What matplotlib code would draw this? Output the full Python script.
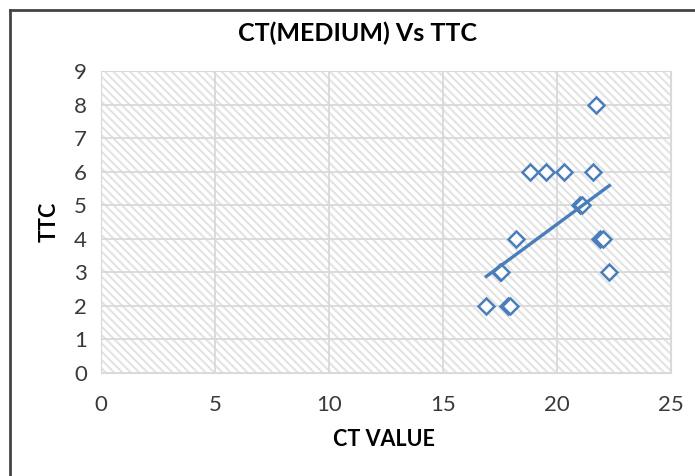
import numpy as np
import matplotlib.pyplot as plt
from matplotlib.patches import Rectangle
from matplotlib.lines import Line2D

# CT value vs TTC readings
ct_value = [16.9, 17.5, 17.55, 17.85, 17.95, 18.2, 18.8, 19.5, 20.3,
            21.0, 21.1, 21.6, 21.7, 21.9, 22.0, 22.3]
ttc = [2, 3, 3, 2, 2, 4, 6, 6, 6, 5, 5, 6, 8, 4, 4, 3]

x_ticks = [0, 5, 10, 15, 20, 25]
y_ticks = list(range(0, 10))

plt.rcParams['font.family'] = ['Lato', 'DejaVu Sans']
plt.rcParams['hatch.linewidth'] = 1.5

blue = '#4A7EBB'

fig = plt.figure(figsize=(6.95, 4.76), dpi=100)
ax = fig.add_axes([101 / 695, 1 - 373 / 476, 570 / 695, 302 / 476])

# hatched plot area
ax.add_patch(Rectangle((0, 0), 1, 1, transform=ax.transAxes, facecolor='white',
                       edgecolor='#e3e3e3', hatch='\\\\\\\\', lw=0, zorder=0))

ax.plot(ct_value, ttc, linestyle='none', marker='D', markersize=8,
        markerfacecolor='white', markeredgecolor=blue, markeredgewidth=1.8, zorder=3)

# linear trendline
slope, intercept = np.polyfit(ct_value, ttc, 1)
xs = np.array([min(ct_value), max(ct_value)])
ax.plot(xs, slope * xs + intercept, color=blue, lw=2.4, zorder=4)

ax.set_xlim(0, 25)
ax.set_ylim(0, 9)
ax.set_xticks(x_ticks)
ax.set_yticks(y_ticks)
ax.set_axisbelow(True)
ax.grid(True, color='#d9d9d9', lw=1.3)
for s in ax.spines.values():
    s.set_color('#d9d9d9')
ax.tick_params(length=0, labelsize=16, labelcolor='#3a3a3a')
ax.tick_params(axis='x', pad=16)
ax.tick_params(axis='y', pad=10)

fig.text(358 / 695, 1 - 33 / 476, 'CT(MEDIUM) Vs TTC', ha='center', va='center',
         fontsize=18, fontweight='bold')
fig.text(384 / 695, 1 - 440 / 476, 'CT VALUE', ha='center', va='center',
         fontsize=15.5, fontweight='bold')
fig.text(49 / 695, 1 - 222 / 476, 'TTC', ha='center', va='center', rotation=90,
         fontsize=15.5, fontweight='bold')

# chart border
fig.add_artist(Line2D([10 / 695, 1.01], [1 - 10 / 476] * 2, color='#444444', lw=2))
fig.add_artist(Line2D([10 / 695] * 2, [-0.01, 1 - 10 / 476], color='#444444', lw=2))

fig.savefig('out.png', dpi=100)
